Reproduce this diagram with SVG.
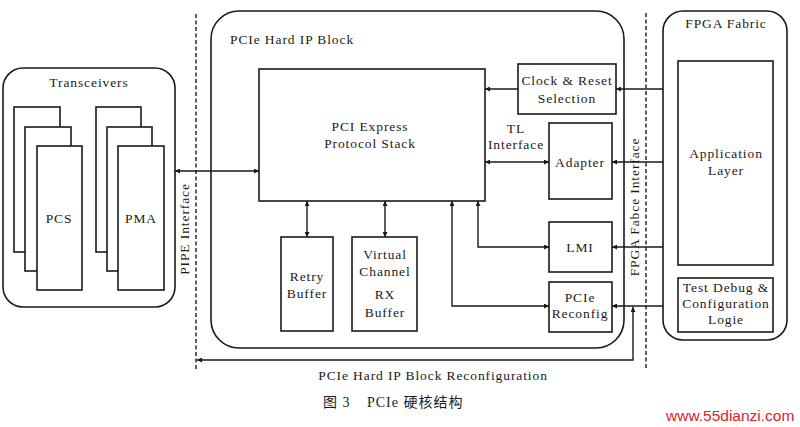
<svg xmlns="http://www.w3.org/2000/svg" width="800" height="427" viewBox="0 0 800 427">
<style>
.box{fill:#fff;stroke:#1a1a1a;stroke-width:1.6}
.rbox{fill:none;stroke:#1a1a1a;stroke-width:1.6}
.dash{fill:none;stroke:#1a1a1a;stroke-width:1.4;stroke-dasharray:4 2.5}
.conn{fill:none;stroke:#1a1a1a;stroke-width:1.4}
text{font-family:'Liberation Serif','DejaVu Serif',serif;font-size:13.5px;fill:#1a1a1a;letter-spacing:0.9px}
.c{text-anchor:middle}
.cap{font-family:'Liberation Serif','Noto Sans CJK SC',serif;font-size:14px;letter-spacing:1px}
</style>
<defs>
<marker id="ah" viewBox="0 0 10 10" refX="10" refY="5" markerWidth="6" markerHeight="5" markerUnits="userSpaceOnUse" orient="auto-start-reverse">
<path d="M0,0 L10,5 L0,10 z" fill="#1a1a1a"/>
</marker>
</defs>
<rect width="800" height="427" fill="#fff"/>

<g id="dividers">
<line class="dash" x1="196" y1="14" x2="196" y2="371"/>
<line class="dash" x1="646" y1="13" x2="646" y2="370"/>
</g>

<g id="transceivers">
<rect class="rbox" x="3" y="68" width="172" height="239" rx="20"/>
<text class="c" x="89" y="87">Transceivers</text>
</g>
<g id="pcs">
<rect class="box" x="14" y="107" width="46" height="145"/>
<rect class="box" x="25" y="127" width="46" height="144"/>
<rect class="box" x="37" y="146" width="45" height="144"/>
<text class="c" x="59" y="223">PCS</text>
</g>
<g id="pma">
<rect class="box" x="96" y="107" width="45" height="145"/>
<rect class="box" x="107" y="127" width="45" height="144"/>
<rect class="box" x="118" y="146" width="46" height="144"/>
<text class="c" x="141" y="223">PMA</text>
</g>
<g id="pipe-interface">
<text class="c" transform="translate(189,229) rotate(-90)">PIPE Interface</text>
</g>

<g id="hard-ip-block">
<rect class="rbox" x="211" y="11" width="413" height="337" rx="28"/>
<text x="230" y="44">PCIe Hard IP Block</text>
</g>
<g id="protocol-stack">
<rect class="box" x="259" y="69" width="226" height="132"/>
<text class="c" x="370" y="131">PCI Express</text>
<text class="c" x="370" y="148">Protocol Stack</text>
</g>
<g id="retry-buffer">
<rect class="box" x="281" y="237" width="52" height="94"/>
<text class="c" x="307" y="281">Retry</text>
<text class="c" x="307" y="298">Buffer</text>
</g>
<g id="vc-rx-buffer">
<rect class="box" x="352" y="237" width="65" height="94"/>
<text class="c" x="385" y="259">Virtual</text>
<text class="c" x="385" y="276">Channel</text>
<text class="c" x="385" y="299">RX</text>
<text class="c" x="385" y="317">Buffer</text>
</g>
<g id="clock-reset">
<rect class="box" x="518" y="64" width="98" height="50"/>
<text class="c" x="567" y="85">Clock &amp; Reset</text>
<text class="c" x="567" y="103">Selection</text>
</g>
<g id="tl-interface">
<text class="c" x="516" y="133">TL</text>
<text class="c" x="516" y="149">Interface</text>
</g>
<g id="adapter">
<rect class="box" x="549" y="123" width="63" height="76"/>
<text class="c" x="580" y="167">Adapter</text>
</g>
<g id="lmi">
<rect class="box" x="549" y="222" width="63" height="50"/>
<text class="c" x="580" y="252">LMI</text>
</g>
<g id="pcie-reconfig">
<rect class="box" x="549" y="282" width="63" height="50"/>
<text class="c" x="580" y="302">PCIe</text>
<text class="c" x="580" y="318">Reconfig</text>
</g>
<g id="fpga-fabce-interface">
<text class="c" transform="translate(639,207) rotate(-90)">FPGA Fabce Interface</text>
</g>

<g id="fpga-fabric">
<rect class="rbox" x="663" y="11" width="124" height="329" rx="20"/>
<text class="c" x="726" y="28">FPGA Fabric</text>
</g>
<g id="application-layer">
<rect class="box" x="678" y="61" width="95" height="204"/>
<text class="c" x="726" y="158">Application</text>
<text class="c" x="726" y="175">Layer</text>
</g>
<g id="test-debug">
<rect class="box" x="678" y="278" width="95" height="54"/>
<text class="c" x="726" y="292">Test Debug &amp;</text>
<text class="c" x="726" y="308">Configuration</text>
<text class="c" x="726" y="324">Logie</text>
</g>

<g id="connectors">
<line class="conn" x1="175" y1="171" x2="259" y2="171" marker-start="url(#ah)" marker-end="url(#ah)"/>
<line class="conn" x1="518" y1="89" x2="485" y2="89" marker-end="url(#ah)"/>
<line class="conn" x1="485" y1="162" x2="549" y2="162" marker-start="url(#ah)" marker-end="url(#ah)"/>
<line class="conn" x1="307" y1="201" x2="307" y2="237" marker-start="url(#ah)" marker-end="url(#ah)"/>
<line class="conn" x1="385" y1="201" x2="385" y2="237" marker-start="url(#ah)" marker-end="url(#ah)"/>
<path class="conn" d="M478,201 V247 H549" marker-start="url(#ah)" marker-end="url(#ah)"/>
<path class="conn" d="M452,201 V306 H549" marker-start="url(#ah)" marker-end="url(#ah)"/>
<line class="conn" x1="663" y1="89" x2="616" y2="89" marker-end="url(#ah)"/>
<line class="conn" x1="663" y1="162" x2="612" y2="162" marker-end="url(#ah)"/>
<line class="conn" x1="663" y1="247" x2="612" y2="247" marker-end="url(#ah)"/>
<line class="conn" x1="663" y1="306" x2="612" y2="306" marker-end="url(#ah)"/>
<path class="conn" d="M633,307 V360 H197" marker-start="url(#ah)" marker-end="url(#ah)"/>
</g>

<g id="labels">
<text class="c" x="433" y="380">PCIe Hard IP Block Reconfiguration</text>
<text class="cap" y="407"><tspan x="323">图 3</tspan><tspan x="367">PCIe 硬核结构</tspan></text>
<text x="666" y="421" style="font-family:'Liberation Sans',Arial,sans-serif;font-size:15.5px;fill:#e0202a;letter-spacing:0">www.55dianzi.com</text>
</g>
</svg>
